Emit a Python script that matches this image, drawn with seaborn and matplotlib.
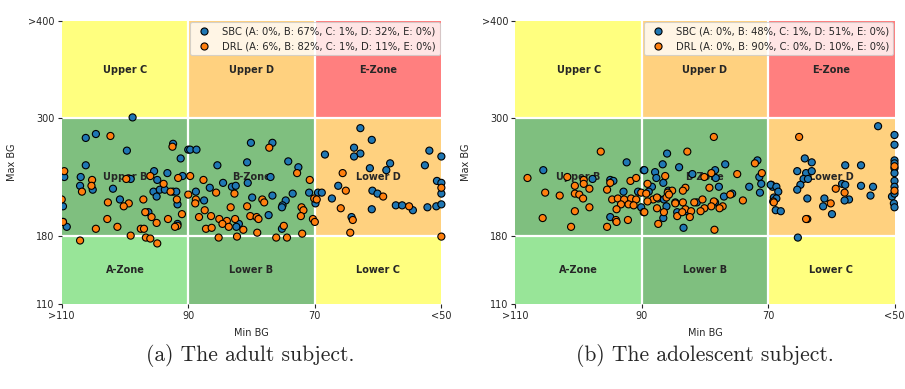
import matplotlib
matplotlib.use("Agg")
import matplotlib.pyplot as plt
import numpy as np
import pandas as pd
import seaborn as sns
from matplotlib.patches import Rectangle

sns.set_style("ticks")
plt.rcParams["font.family"] = ["DejaVu Sans"]

# Grid of the control variability chart
min_bg_edges = [110, 90, 70, 50]
max_bg_edges = [110, 180, 300, 400]
x_tick_labels = [">110", "90", "70", "<50"]
y_tick_labels = ["110", "180", "300", ">400"]

# rows: low / middle / high Max BG ; columns: high / middle / low Min BG
zone_labels = [
    ["A-Zone", "Lower B", "Lower C"],
    ["Upper B", "B-Zone", "Lower D"],
    ["Upper C", "Upper D", "E-Zone"],
]
zone_colors = [
    ["limegreen", "green", "yellow"],
    ["green", "green", "orange"],
    ["yellow", "orange", "red"],
]

# ---- adult subject ----
adult_sbc_min = [
    98.8, 106.2, 104.6, 99.7, 92.4, 90.0, 91.2, 106.2, 109.6, 107.0,
    95.4, 93.3, 90.9, 94.9, 107.1, 105.1, 101.9, 95.5, 94.5, 93.7,
    92.4, 91.9, 95.0, 100.8, 91.7, 109.8, 96.3, 109.8, 109.2, 91.7,
    99.1, 80.1, 76.7, 89.7, 88.7, 85.4, 80.7, 74.2, 72.6, 77.0,
    84.5, 80.6, 83.1, 82.5, 86.6, 88.8, 73.5, 70.9, 69.5, 76.7,
    79.9, 74.6, 87.5, 75.1, 75.2, 69.9, 77.3, 82.0, 82.4, 75.2,
    62.8, 61.0, 63.8, 62.8, 63.8, 68.4, 51.9, 50.0, 61.3, 58.1,
    58.7, 52.6, 50.7, 50.0, 50.0, 66.3, 68.9, 67.3, 60.9, 60.1,
    61.0, 57.2, 56.2, 54.5, 52.2, 50.8, 50.0, 64.2]
adult_sbc_max = [
    301, 280, 284, 267, 274, 268, 259, 252, 240, 240,
    246, 244, 241, 237, 231, 227, 228, 225, 227, 227,
    225, 225, 220, 217, 212, 210, 204, 194, 189, 192,
    238, 275, 275, 268, 268, 252, 255, 256, 250, 240,
    234, 234, 230, 231, 229, 225, 223, 224, 224, 221,
    219, 216, 216, 211, 209, 213, 201, 192, 189, 187,
    290, 278, 270, 264, 261, 263, 267, 261, 249, 254,
    247, 252, 236, 234, 223, 231, 224, 218, 226, 223,
    207, 211, 211, 206, 209, 210, 212, 199]
adult_drl_min = [
    102.3, 92.5, 109.6, 105.2, 105.3, 106.8, 99.8, 96.0, 91.6, 93.9,
    92.8, 90.0, 110.0, 102.7, 99.4, 100.2, 97.1, 91.8, 96.8, 95.8,
    91.0, 102.8, 93.2, 109.8, 95.0, 91.7, 92.1, 104.6, 101.2, 97.5,
    97.0, 99.1, 96.7, 96.0, 107.1, 94.9, 77.2, 89.7, 87.6, 72.8,
    70.8, 85.6, 82.7, 88.8, 88.9, 78.3, 78.0, 70.1, 69.7, 87.4,
    83.3, 80.7, 72.1, 71.8, 88.3, 86.4, 85.1, 83.9, 84.6, 82.6,
    80.2, 79.2, 78.9, 72.2, 70.3, 70.0, 83.6, 87.2, 86.3, 81.3,
    79.1, 74.9, 85.2, 82.3, 76.1, 74.4, 72.0, 65.6, 65.1, 59.2,
    50.0, 65.9, 55.1, 64.0, 64.4, 50.0]
adult_drl_max = [
    282, 271, 246, 237, 231, 225, 238, 241, 239, 233,
    225, 222, 217, 214, 213, 210, 217, 217, 204, 199,
    202, 197, 197, 194, 193, 190, 189, 187, 189, 187,
    187, 180, 178, 177, 175, 172, 270, 241, 237, 244,
    237, 224, 223, 217, 213, 217, 214, 218, 217, 206,
    209, 210, 209, 206, 199, 200, 197, 195, 192, 197,
    200, 199, 197, 200, 197, 194, 189, 187, 188, 186,
    183, 190, 178, 179, 178, 178, 182, 244, 226, 220,
    229, 208, 210, 196, 183, 179]
adult_labels = [
    "SBC (A: 0%, B: 67%, C: 1%, D: 32%, E: 0%)",
    "DRL (A: 6%, B: 82%, C: 1%, D: 11%, E: 0%)",
]

# ---- adolescent subject ----
teen_sbc_min = [
    92.4, 105.6, 97.8, 89.7, 95.0, 94.5, 92.9, 90.6, 90.1, 95.0,
    86.0, 86.7, 84.1, 89.6, 87.9, 87.7, 82.0, 78.4, 78.3, 76.8,
    71.7, 71.4, 86.6, 88.4, 88.9, 85.8, 77.8, 73.0, 71.1, 71.3,
    69.5, 69.3, 75.7, 77.0, 87.4, 86.5, 84.7, 81.3, 78.4, 86.1,
    83.0, 84.4, 86.6, 83.4, 52.6, 50.0, 50.0, 64.2, 63.1, 57.8,
    55.3, 65.4, 64.0, 63.1, 64.4, 63.7, 64.9, 65.4, 69.6, 68.7,
    68.4, 58.3, 57.8, 55.3, 53.4, 53.8, 69.1, 68.7, 63.8, 61.1,
    57.2, 57.9, 61.3, 68.8, 68.0, 59.9, 63.8, 50.4, 50.1, 50.0,
    50.0, 50.0, 50.0, 50.0, 50.0, 50.0, 50.0, 65.3]
teen_sbc_max = [
    255, 247, 238, 247, 237, 236, 225, 225, 209, 199,
    264, 253, 250, 247, 245, 239, 243, 247, 239, 253,
    257, 240, 234, 230, 225, 226, 230, 230, 233, 224,
    232, 230, 223, 220, 218, 217, 214, 214, 214, 210,
    205, 204, 198, 188, 292, 283, 273, 259, 255, 252,
    252, 246, 244, 246, 238, 238, 232, 227, 232, 230,
    225, 233, 232, 231, 230, 221, 219, 218, 218, 218,
    217, 216, 210, 206, 205, 202, 197, 220, 213, 209,
    257, 254, 249, 244, 236, 230, 223, 178]
teen_drl_min = [
    96.5, 108.1, 101.8, 99.2, 99.2, 95.0, 91.8, 90.9, 100.6, 98.3,
    95.5, 105.3, 103.0, 100.6, 99.9, 99.3, 90.1, 94.7, 93.8, 92.8,
    91.7, 90.9, 93.3, 92.1, 91.3, 94.0, 98.3, 100.6, 89.7, 105.7,
    94.1, 94.0, 92.2, 101.2, 95.5, 78.6, 82.8, 72.1, 71.0, 74.9,
    79.0, 80.1, 86.3, 89.1, 83.1, 83.5, 85.2, 85.9, 79.3, 89.3,
    88.2, 89.1, 87.6, 86.1, 85.7, 80.4, 81.7, 83.5, 84.7, 78.6,
    76.0, 74.0, 77.2, 79.0, 77.7, 80.1, 83.1, 82.2, 87.6, 89.6,
    86.5, 84.4, 83.6, 80.7, 82.4, 87.4, 78.5, 69.2, 65.1, 69.1,
    59.3, 57.9, 60.1, 64.0, 50.0, 50.0]
teen_drl_max = [
    266, 239, 240, 237, 233, 234, 236, 239, 231, 228,
    227, 224, 221, 223, 222, 218, 224, 217, 218, 217,
    218, 217, 212, 212, 211, 207, 209, 205, 204, 198,
    196, 194, 196, 189, 189, 281, 266, 254, 244, 243,
    244, 240, 241, 233, 229, 226, 226, 224, 229, 223,
    217, 215, 219, 219, 222, 217, 214, 214, 213, 215,
    222, 216, 210, 210, 208, 208, 207, 205, 208, 204,
    204, 200, 204, 205, 199, 192, 186, 215, 281, 214,
    228, 224, 213, 197, 251, 226]
teen_labels = [
    "SBC (A: 0%, B: 48%, C: 1%, D: 51%, E: 0%)",
    "DRL (A: 0%, B: 90%, C: 0%, D: 10%, E: 0%)",
]

captions = ["(a) The adult subject.", "(b) The adolescent subject."]


def build_frame(sbc_min, sbc_max, drl_min, drl_max, labels):
    sbc = pd.DataFrame({"Min BG": sbc_min, "Max BG": sbc_max, "series": labels[0]})
    drl = pd.DataFrame({"Min BG": drl_min, "Max BG": drl_max, "series": labels[1]})
    return pd.concat([sbc, drl], ignore_index=True)


def draw_panel(ax, df, labels):
    # coloured zones
    for r in range(3):
        for c in range(3):
            x0, x1 = min_bg_edges[c], min_bg_edges[c + 1]
            y0, y1 = max_bg_edges[r], max_bg_edges[r + 1]
            ax.add_patch(Rectangle((x1, y0), x0 - x1, y1 - y0,
                                   facecolor=zone_colors[r][c], alpha=0.5,
                                   edgecolor="none", zorder=0))
            ax.text((x0 + x1) / 2, (y0 + y1) / 2, zone_labels[r][c],
                    ha="center", va="center", fontsize=7, fontweight="bold",
                    zorder=1)
    for v in min_bg_edges[1:-1]:
        ax.axvline(v, color="white", lw=1.6, zorder=0.5)
    for v in max_bg_edges[1:-1]:
        ax.axhline(v, color="white", lw=1.6, zorder=0.5)

    sns.scatterplot(data=df, x="Min BG", y="Max BG", hue="series",
                    hue_order=labels, palette=["#1f77b4", "#ff7f0e"],
                    s=26, edgecolor="black", linewidth=0.8, ax=ax,
                    zorder=3)
    # markers are cut at the left border only
    clip = Rectangle((0, -0.05), 1.1, 1.1, transform=ax.transAxes,
                     facecolor="none", edgecolor="none")
    for coll in ax.collections:
        coll.set_clip_path(clip)

    ax.set_xlim(110, 50)
    ax.set_ylim(110, 400)
    ax.set_xticks(min_bg_edges)
    ax.set_xticklabels(x_tick_labels)
    ax.set_yticks(max_bg_edges)
    ax.set_yticklabels(y_tick_labels)
    ax.tick_params(labelsize=7, length=3, width=0.8, pad=2)
    for sp in ax.spines.values():
        sp.set_visible(False)
    ax.set_xlabel("Min BG", fontsize=7)
    ax.set_ylabel("Max BG", fontsize=7)
    ax.xaxis.set_label_coords(0.5, -0.085)
    ax.yaxis.set_label_coords(-0.117, 0.5)

    handles, lbls = ax.get_legend_handles_labels()
    leg = ax.legend(handles, lbls, loc="upper right", fontsize=7.2,
                    frameon=True, framealpha=0.8, borderaxespad=0.15,
                    handletextpad=0.8, borderpad=0.4, labelspacing=0.5)
    leg.get_frame().set_edgecolor("0.8")
    leg.get_frame().set_linewidth(0.8)


fig = plt.figure(figsize=(9.05, 3.89), dpi=100)
ax1 = fig.add_axes([0.0682, 0.2185, 0.4195, 0.7283])
ax2 = fig.add_axes([0.5696, 0.2185, 0.4188, 0.7283])

draw_panel(ax1, build_frame(adult_sbc_min, adult_sbc_max,
                            adult_drl_min, adult_drl_max, adult_labels),
           adult_labels)
draw_panel(ax2, build_frame(teen_sbc_min, teen_sbc_max,
                            teen_drl_min, teen_drl_max, teen_labels),
           teen_labels)

for xc, text in zip([0.277, 0.779], captions):
    fig.text(xc, 0.085, text, ha="center", va="center", fontsize=15.5,
             family=["cmr10", "DejaVu Serif"])

fig.savefig("out.png", dpi=100)
